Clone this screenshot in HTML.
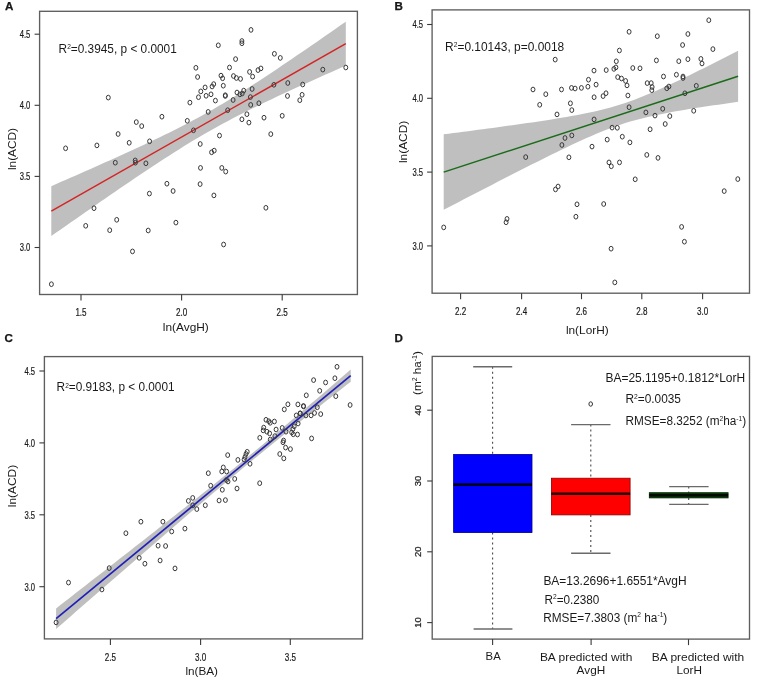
<!DOCTYPE html>
<html><head><meta charset="utf-8"><style>
html,body{margin:0;padding:0;background:#fff;}
svg{display:block;will-change:transform;}
text{font-family:"Liberation Sans", sans-serif;fill:#1a1a1a;}
</style></head><body>
<svg width="758" height="686" viewBox="0 0 758 686">
<rect x="0" y="0" width="758" height="686" fill="#fff"/>

<path d="M51.30,186.15 L56.21,184.01 L61.12,181.86 L66.02,179.72 L70.93,177.57 L75.84,175.41 L80.75,173.25 L85.66,171.08 L90.57,168.91 L95.47,166.74 L100.38,164.55 L105.29,162.36 L110.20,160.16 L115.11,157.95 L120.02,155.73 L124.92,153.50 L129.83,151.25 L134.74,149.00 L139.65,146.72 L144.56,144.43 L149.47,142.12 L154.38,139.79 L159.28,137.44 L164.19,135.05 L169.10,132.64 L174.01,130.20 L178.92,127.72 L183.82,125.20 L188.73,122.64 L193.64,120.04 L198.55,117.39 L203.46,114.69 L208.37,111.94 L213.27,109.14 L218.18,106.29 L223.09,103.39 L228.00,100.44 L232.91,97.44 L237.82,94.41 L242.73,91.33 L247.63,88.21 L252.54,85.06 L257.45,81.88 L262.36,78.67 L267.27,75.43 L272.18,72.18 L277.08,68.90 L281.99,65.60 L286.90,62.29 L291.81,58.96 L296.72,55.62 L301.62,52.27 L306.53,48.90 L311.44,45.53 L316.35,42.14 L321.26,38.75 L326.17,35.35 L331.07,31.95 L335.98,28.54 L340.89,25.12 L345.80,21.70 L345.80,65.70 L340.89,67.86 L335.98,70.02 L331.07,72.19 L326.17,74.37 L321.26,76.55 L316.35,78.74 L311.44,80.93 L306.53,83.14 L301.62,85.35 L296.72,87.58 L291.81,89.82 L286.90,92.07 L281.99,94.34 L277.08,96.62 L272.18,98.92 L267.27,101.25 L262.36,103.59 L257.45,105.96 L252.54,108.36 L247.63,110.79 L242.73,113.25 L237.82,115.75 L232.91,118.30 L228.00,120.88 L223.09,123.51 L218.18,126.19 L213.27,128.92 L208.37,131.70 L203.46,134.53 L198.55,137.41 L193.64,140.34 L188.73,143.32 L183.82,146.34 L178.92,149.40 L174.01,152.50 L169.10,155.64 L164.19,158.81 L159.28,162.00 L154.38,165.23 L149.47,168.48 L144.56,171.75 L139.65,175.04 L134.74,178.34 L129.83,181.67 L124.92,185.00 L120.02,188.35 L115.11,191.71 L110.20,195.08 L105.29,198.46 L100.38,201.85 L95.47,205.24 L90.57,208.65 L85.66,212.06 L80.75,215.47 L75.84,218.89 L70.93,222.31 L66.02,225.74 L61.12,229.18 L56.21,232.61 L51.30,236.05 Z" fill="#bfbfbf"/>
<line x1="51.3" y1="211.1" x2="345.8" y2="43.7" stroke="#d42424" stroke-width="1.5"/>
<path d="M443.70,134.37 L448.61,133.73 L453.51,133.09 L458.42,132.45 L463.33,131.81 L468.23,131.16 L473.14,130.51 L478.05,129.86 L482.95,129.21 L487.86,128.55 L492.77,127.89 L497.67,127.22 L502.58,126.55 L507.49,125.87 L512.39,125.19 L517.30,124.50 L522.21,123.80 L527.11,123.09 L532.02,122.38 L536.93,121.65 L541.83,120.91 L546.74,120.16 L551.65,119.39 L556.55,118.60 L561.46,117.79 L566.37,116.96 L571.27,116.09 L576.18,115.20 L581.09,114.26 L585.99,113.28 L590.90,112.25 L595.81,111.16 L600.71,110.01 L605.62,108.77 L610.53,107.46 L615.43,106.05 L620.34,104.55 L625.25,102.95 L630.15,101.25 L635.06,99.45 L639.97,97.57 L644.87,95.60 L649.78,93.56 L654.69,91.45 L659.59,89.28 L664.50,87.06 L669.41,84.80 L674.31,82.50 L679.22,80.17 L684.13,77.81 L689.03,75.42 L693.94,73.01 L698.85,70.59 L703.75,68.15 L708.66,65.69 L713.57,63.23 L718.47,60.75 L723.38,58.26 L728.29,55.76 L733.19,53.26 L738.10,50.75 L738.10,101.85 L733.19,102.53 L728.29,103.22 L723.38,103.92 L718.47,104.63 L713.57,105.34 L708.66,106.07 L703.75,106.81 L698.85,107.56 L693.94,108.33 L689.03,109.11 L684.13,109.92 L679.22,110.75 L674.31,111.61 L669.41,112.51 L664.50,113.44 L659.59,114.41 L654.69,115.44 L649.78,116.52 L644.87,117.67 L639.97,118.90 L635.06,120.21 L630.15,121.61 L625.25,123.10 L620.34,124.69 L615.43,126.38 L610.53,128.17 L605.62,130.05 L600.71,132.01 L595.81,134.04 L590.90,136.15 L585.99,138.31 L581.09,140.52 L576.18,142.78 L571.27,145.08 L566.37,147.41 L561.46,149.77 L556.55,152.15 L551.65,154.56 L546.74,156.98 L541.83,159.42 L536.93,161.88 L532.02,164.34 L527.11,166.82 L522.21,169.31 L517.30,171.80 L512.39,174.30 L507.49,176.81 L502.58,179.33 L497.67,181.85 L492.77,184.38 L487.86,186.91 L482.95,189.44 L478.05,191.98 L473.14,194.53 L468.23,197.07 L463.33,199.62 L458.42,202.17 L453.51,204.72 L448.61,207.28 L443.70,209.83 Z" fill="#bfbfbf"/>
<line x1="443.7" y1="172.1" x2="738.1" y2="76.3" stroke="#1a6b1a" stroke-width="1.5"/>
<path d="M56.10,608.42 L61.01,604.59 L65.92,600.77 L70.83,596.94 L75.74,593.11 L80.65,589.28 L85.56,585.46 L90.47,581.62 L95.38,577.79 L100.29,573.96 L105.20,570.13 L110.11,566.29 L115.02,562.45 L119.93,558.62 L124.84,554.78 L129.75,550.93 L134.66,547.09 L139.57,543.24 L144.48,539.39 L149.39,535.54 L154.30,531.68 L159.21,527.82 L164.12,523.96 L169.03,520.09 L173.94,516.22 L178.85,512.34 L183.76,508.46 L188.67,504.56 L193.58,500.67 L198.49,496.76 L203.40,492.85 L208.31,488.92 L213.22,484.99 L218.13,481.04 L223.04,477.09 L227.95,473.11 L232.86,469.13 L237.77,465.13 L242.68,461.11 L247.59,457.08 L252.50,453.03 L257.41,448.97 L262.32,444.89 L267.23,440.79 L272.14,436.68 L277.05,432.55 L281.96,428.41 L286.87,424.26 L291.78,420.09 L296.69,415.92 L301.60,411.73 L306.51,407.54 L311.42,403.34 L316.33,399.13 L321.24,394.91 L326.15,390.69 L331.06,386.46 L335.97,382.22 L340.88,377.99 L345.79,373.74 L350.70,369.50 L350.70,381.70 L345.79,385.56 L340.88,389.42 L335.97,393.29 L331.06,397.16 L326.15,401.03 L321.24,404.91 L316.33,408.80 L311.42,412.69 L306.51,416.59 L301.60,420.50 L296.69,424.42 L291.78,428.35 L286.87,432.29 L281.96,436.24 L277.05,440.20 L272.14,444.18 L267.23,448.17 L262.32,452.17 L257.41,456.20 L252.50,460.24 L247.59,464.29 L242.68,468.36 L237.77,472.45 L232.86,476.55 L227.95,480.67 L223.04,484.80 L218.13,488.95 L213.22,493.10 L208.31,497.27 L203.40,501.45 L198.49,505.64 L193.58,509.84 L188.67,514.05 L183.76,518.26 L178.85,522.48 L173.94,526.70 L169.03,530.93 L164.12,535.17 L159.21,539.41 L154.30,543.65 L149.39,547.90 L144.48,552.15 L139.57,556.40 L134.66,560.66 L129.75,564.92 L124.84,569.18 L119.93,573.44 L115.02,577.71 L110.11,581.97 L105.20,586.24 L100.29,590.51 L95.38,594.78 L90.47,599.05 L85.56,603.32 L80.65,607.60 L75.74,611.87 L70.83,616.15 L65.92,620.43 L61.01,624.71 L56.10,628.98 Z" fill="#bfbfbf"/>
<line x1="56.1" y1="618.7" x2="350.7" y2="375.6" stroke="#1f1fb8" stroke-width="1.7"/>
<g fill="none" stroke="#383838" stroke-width="1.0">
<ellipse cx="108.3" cy="97.6" rx="1.95" ry="2.35"/><ellipse cx="195.9" cy="67.8" rx="1.95" ry="2.35"/><ellipse cx="197.6" cy="77.0" rx="1.95" ry="2.35"/><ellipse cx="189.9" cy="102.6" rx="1.95" ry="2.35"/><ellipse cx="161.9" cy="116.7" rx="1.95" ry="2.35"/><ellipse cx="136.3" cy="122.1" rx="1.95" ry="2.35"/><ellipse cx="141.7" cy="126.1" rx="1.95" ry="2.35"/><ellipse cx="187.3" cy="120.8" rx="1.95" ry="2.35"/><ellipse cx="118.1" cy="134.0" rx="1.95" ry="2.35"/><ellipse cx="193.5" cy="130.3" rx="1.95" ry="2.35"/><ellipse cx="65.6" cy="148.3" rx="1.95" ry="2.35"/><ellipse cx="96.9" cy="145.4" rx="1.95" ry="2.35"/><ellipse cx="129.2" cy="142.8" rx="1.95" ry="2.35"/><ellipse cx="149.6" cy="141.3" rx="1.95" ry="2.35"/><ellipse cx="251.0" cy="29.9" rx="1.95" ry="2.35"/><ellipse cx="241.9" cy="41.0" rx="1.95" ry="2.35"/><ellipse cx="241.9" cy="43.3" rx="1.95" ry="2.35"/><ellipse cx="218.3" cy="45.3" rx="1.95" ry="2.35"/><ellipse cx="274.4" cy="53.8" rx="1.95" ry="2.35"/><ellipse cx="235.6" cy="59.1" rx="1.95" ry="2.35"/><ellipse cx="229.5" cy="67.5" rx="1.95" ry="2.35"/><ellipse cx="221.0" cy="75.6" rx="1.95" ry="2.35"/><ellipse cx="222.6" cy="78.3" rx="1.95" ry="2.35"/><ellipse cx="233.5" cy="76.0" rx="1.95" ry="2.35"/><ellipse cx="236.4" cy="78.0" rx="1.95" ry="2.35"/><ellipse cx="240.5" cy="78.9" rx="1.95" ry="2.35"/><ellipse cx="249.6" cy="71.9" rx="1.95" ry="2.35"/><ellipse cx="252.6" cy="76.6" rx="1.95" ry="2.35"/><ellipse cx="258.0" cy="70.1" rx="1.95" ry="2.35"/><ellipse cx="260.9" cy="68.4" rx="1.95" ry="2.35"/><ellipse cx="213.7" cy="84.1" rx="1.95" ry="2.35"/><ellipse cx="212.1" cy="86.5" rx="1.95" ry="2.35"/><ellipse cx="205.1" cy="87.4" rx="1.95" ry="2.35"/><ellipse cx="200.8" cy="91.4" rx="1.95" ry="2.35"/><ellipse cx="223.3" cy="85.7" rx="1.95" ry="2.35"/><ellipse cx="198.5" cy="97.2" rx="1.95" ry="2.35"/><ellipse cx="206.1" cy="95.8" rx="1.95" ry="2.35"/><ellipse cx="211.0" cy="94.3" rx="1.95" ry="2.35"/><ellipse cx="225.3" cy="95.2" rx="1.95" ry="2.35"/><ellipse cx="225.3" cy="96.0" rx="1.95" ry="2.35"/><ellipse cx="237.0" cy="92.5" rx="1.95" ry="2.35"/><ellipse cx="239.9" cy="94.4" rx="1.95" ry="2.35"/><ellipse cx="242.2" cy="93.5" rx="1.95" ry="2.35"/><ellipse cx="243.7" cy="90.6" rx="1.95" ry="2.35"/><ellipse cx="252.1" cy="89.0" rx="1.95" ry="2.35"/><ellipse cx="250.4" cy="97.1" rx="1.95" ry="2.35"/><ellipse cx="233.1" cy="100.0" rx="1.95" ry="2.35"/><ellipse cx="215.4" cy="100.6" rx="1.95" ry="2.35"/><ellipse cx="273.9" cy="84.8" rx="1.95" ry="2.35"/><ellipse cx="280.3" cy="57.9" rx="1.95" ry="2.35"/><ellipse cx="322.8" cy="69.6" rx="1.95" ry="2.35"/><ellipse cx="345.8" cy="67.5" rx="1.95" ry="2.35"/><ellipse cx="287.8" cy="83.0" rx="1.95" ry="2.35"/><ellipse cx="302.7" cy="84.5" rx="1.95" ry="2.35"/><ellipse cx="287.5" cy="96.0" rx="1.95" ry="2.35"/><ellipse cx="302.1" cy="94.8" rx="1.95" ry="2.35"/><ellipse cx="299.8" cy="100.2" rx="1.95" ry="2.35"/><ellipse cx="250.7" cy="104.9" rx="1.95" ry="2.35"/><ellipse cx="258.9" cy="103.2" rx="1.95" ry="2.35"/><ellipse cx="208.2" cy="111.9" rx="1.95" ry="2.35"/><ellipse cx="227.7" cy="110.2" rx="1.95" ry="2.35"/><ellipse cx="246.9" cy="114.2" rx="1.95" ry="2.35"/><ellipse cx="241.9" cy="119.3" rx="1.95" ry="2.35"/><ellipse cx="248.9" cy="122.6" rx="1.95" ry="2.35"/><ellipse cx="264.0" cy="117.7" rx="1.95" ry="2.35"/><ellipse cx="270.8" cy="134.1" rx="1.95" ry="2.35"/><ellipse cx="219.5" cy="135.6" rx="1.95" ry="2.35"/><ellipse cx="200.2" cy="144.0" rx="1.95" ry="2.35"/><ellipse cx="211.6" cy="152.3" rx="1.95" ry="2.35"/><ellipse cx="214.2" cy="150.6" rx="1.95" ry="2.35"/><ellipse cx="200.5" cy="167.9" rx="1.95" ry="2.35"/><ellipse cx="221.8" cy="167.9" rx="1.95" ry="2.35"/><ellipse cx="225.7" cy="171.6" rx="1.95" ry="2.35"/><ellipse cx="282.2" cy="115.8" rx="1.95" ry="2.35"/><ellipse cx="115.3" cy="162.7" rx="1.95" ry="2.35"/><ellipse cx="135.2" cy="160.4" rx="1.95" ry="2.35"/><ellipse cx="135.4" cy="162.7" rx="1.95" ry="2.35"/><ellipse cx="145.9" cy="163.3" rx="1.95" ry="2.35"/><ellipse cx="166.9" cy="183.7" rx="1.95" ry="2.35"/><ellipse cx="173.1" cy="191.0" rx="1.95" ry="2.35"/><ellipse cx="149.4" cy="193.6" rx="1.95" ry="2.35"/><ellipse cx="116.7" cy="219.8" rx="1.95" ry="2.35"/><ellipse cx="94.0" cy="208.2" rx="1.95" ry="2.35"/><ellipse cx="85.7" cy="225.8" rx="1.95" ry="2.35"/><ellipse cx="109.7" cy="230.2" rx="1.95" ry="2.35"/><ellipse cx="51.4" cy="284.2" rx="1.95" ry="2.35"/><ellipse cx="200.1" cy="184.1" rx="1.95" ry="2.35"/><ellipse cx="213.9" cy="195.4" rx="1.95" ry="2.35"/><ellipse cx="265.9" cy="207.8" rx="1.95" ry="2.35"/><ellipse cx="148.2" cy="230.5" rx="1.95" ry="2.35"/><ellipse cx="175.9" cy="222.6" rx="1.95" ry="2.35"/><ellipse cx="132.5" cy="251.4" rx="1.95" ry="2.35"/><ellipse cx="223.6" cy="244.5" rx="1.95" ry="2.35"/>
<ellipse cx="555.2" cy="59.6" rx="1.95" ry="2.35"/><ellipse cx="629.1" cy="31.8" rx="1.95" ry="2.35"/><ellipse cx="657.3" cy="36.2" rx="1.95" ry="2.35"/><ellipse cx="619.4" cy="50.5" rx="1.95" ry="2.35"/><ellipse cx="616.3" cy="61.3" rx="1.95" ry="2.35"/><ellipse cx="656.4" cy="60.4" rx="1.95" ry="2.35"/><ellipse cx="594.0" cy="70.6" rx="1.95" ry="2.35"/><ellipse cx="606.2" cy="70.1" rx="1.95" ry="2.35"/><ellipse cx="613.9" cy="68.9" rx="1.95" ry="2.35"/><ellipse cx="615.9" cy="67.4" rx="1.95" ry="2.35"/><ellipse cx="632.8" cy="68.0" rx="1.95" ry="2.35"/><ellipse cx="640.0" cy="68.3" rx="1.95" ry="2.35"/><ellipse cx="588.5" cy="79.7" rx="1.95" ry="2.35"/><ellipse cx="596.1" cy="84.6" rx="1.95" ry="2.35"/><ellipse cx="587.9" cy="86.7" rx="1.95" ry="2.35"/><ellipse cx="617.7" cy="77.1" rx="1.95" ry="2.35"/><ellipse cx="621.5" cy="78.5" rx="1.95" ry="2.35"/><ellipse cx="625.6" cy="80.9" rx="1.95" ry="2.35"/><ellipse cx="627.0" cy="85.4" rx="1.95" ry="2.35"/><ellipse cx="647.2" cy="83.1" rx="1.95" ry="2.35"/><ellipse cx="651.2" cy="83.1" rx="1.95" ry="2.35"/><ellipse cx="652.1" cy="87.0" rx="1.95" ry="2.35"/><ellipse cx="663.5" cy="76.5" rx="1.95" ry="2.35"/><ellipse cx="708.8" cy="20.2" rx="1.95" ry="2.35"/><ellipse cx="687.9" cy="34.0" rx="1.95" ry="2.35"/><ellipse cx="682.6" cy="45.0" rx="1.95" ry="2.35"/><ellipse cx="712.9" cy="49.1" rx="1.95" ry="2.35"/><ellipse cx="678.8" cy="61.2" rx="1.95" ry="2.35"/><ellipse cx="687.9" cy="59.2" rx="1.95" ry="2.35"/><ellipse cx="700.9" cy="58.9" rx="1.95" ry="2.35"/><ellipse cx="702.0" cy="63.5" rx="1.95" ry="2.35"/><ellipse cx="676.4" cy="74.7" rx="1.95" ry="2.35"/><ellipse cx="683.0" cy="76.5" rx="1.95" ry="2.35"/><ellipse cx="683.0" cy="78.0" rx="1.95" ry="2.35"/><ellipse cx="666.8" cy="88.3" rx="1.95" ry="2.35"/><ellipse cx="668.9" cy="86.5" rx="1.95" ry="2.35"/><ellipse cx="696.3" cy="85.8" rx="1.95" ry="2.35"/><ellipse cx="684.9" cy="93.3" rx="1.95" ry="2.35"/><ellipse cx="533.0" cy="89.5" rx="1.95" ry="2.35"/><ellipse cx="545.8" cy="94.2" rx="1.95" ry="2.35"/><ellipse cx="561.5" cy="89.5" rx="1.95" ry="2.35"/><ellipse cx="571.5" cy="87.9" rx="1.95" ry="2.35"/><ellipse cx="575.1" cy="88.5" rx="1.95" ry="2.35"/><ellipse cx="581.4" cy="87.9" rx="1.95" ry="2.35"/><ellipse cx="539.7" cy="104.8" rx="1.95" ry="2.35"/><ellipse cx="570.4" cy="103.3" rx="1.95" ry="2.35"/><ellipse cx="571.8" cy="110.1" rx="1.95" ry="2.35"/><ellipse cx="557.0" cy="114.4" rx="1.95" ry="2.35"/><ellipse cx="571.8" cy="135.4" rx="1.95" ry="2.35"/><ellipse cx="565.0" cy="138.0" rx="1.95" ry="2.35"/><ellipse cx="561.9" cy="145.0" rx="1.95" ry="2.35"/><ellipse cx="525.7" cy="157.1" rx="1.95" ry="2.35"/><ellipse cx="568.9" cy="157.3" rx="1.95" ry="2.35"/><ellipse cx="651.8" cy="90.2" rx="1.95" ry="2.35"/><ellipse cx="594.1" cy="97.2" rx="1.95" ry="2.35"/><ellipse cx="603.1" cy="96.1" rx="1.95" ry="2.35"/><ellipse cx="606.0" cy="93.2" rx="1.95" ry="2.35"/><ellipse cx="627.9" cy="95.5" rx="1.95" ry="2.35"/><ellipse cx="629.1" cy="107.2" rx="1.95" ry="2.35"/><ellipse cx="645.9" cy="112.4" rx="1.95" ry="2.35"/><ellipse cx="655.0" cy="115.6" rx="1.95" ry="2.35"/><ellipse cx="662.7" cy="108.8" rx="1.95" ry="2.35"/><ellipse cx="665.2" cy="124.0" rx="1.95" ry="2.35"/><ellipse cx="594.1" cy="119.4" rx="1.95" ry="2.35"/><ellipse cx="612.1" cy="127.6" rx="1.95" ry="2.35"/><ellipse cx="617.3" cy="127.8" rx="1.95" ry="2.35"/><ellipse cx="650.1" cy="129.3" rx="1.95" ry="2.35"/><ellipse cx="622.3" cy="136.7" rx="1.95" ry="2.35"/><ellipse cx="607.2" cy="139.6" rx="1.95" ry="2.35"/><ellipse cx="629.9" cy="142.4" rx="1.95" ry="2.35"/><ellipse cx="592.0" cy="146.6" rx="1.95" ry="2.35"/><ellipse cx="646.8" cy="154.9" rx="1.95" ry="2.35"/><ellipse cx="658.0" cy="157.9" rx="1.95" ry="2.35"/><ellipse cx="609.0" cy="162.4" rx="1.95" ry="2.35"/><ellipse cx="619.5" cy="162.4" rx="1.95" ry="2.35"/><ellipse cx="669.8" cy="116.1" rx="1.95" ry="2.35"/><ellipse cx="693.7" cy="110.8" rx="1.95" ry="2.35"/><ellipse cx="555.5" cy="189.4" rx="1.95" ry="2.35"/><ellipse cx="558.1" cy="186.5" rx="1.95" ry="2.35"/><ellipse cx="577.0" cy="204.3" rx="1.95" ry="2.35"/><ellipse cx="575.9" cy="216.7" rx="1.95" ry="2.35"/><ellipse cx="507.0" cy="218.9" rx="1.95" ry="2.35"/><ellipse cx="506.1" cy="222.3" rx="1.95" ry="2.35"/><ellipse cx="443.7" cy="227.4" rx="1.95" ry="2.35"/><ellipse cx="611.3" cy="166.3" rx="1.95" ry="2.35"/><ellipse cx="635.2" cy="179.3" rx="1.95" ry="2.35"/><ellipse cx="603.7" cy="204.0" rx="1.95" ry="2.35"/><ellipse cx="737.8" cy="179.1" rx="1.95" ry="2.35"/><ellipse cx="724.2" cy="191.1" rx="1.95" ry="2.35"/><ellipse cx="681.6" cy="226.9" rx="1.95" ry="2.35"/><ellipse cx="684.4" cy="241.7" rx="1.95" ry="2.35"/><ellipse cx="611.1" cy="248.7" rx="1.95" ry="2.35"/><ellipse cx="614.8" cy="282.4" rx="1.95" ry="2.35"/>
<ellipse cx="56.1" cy="622.4" rx="1.95" ry="2.35"/><ellipse cx="68.5" cy="582.6" rx="1.95" ry="2.35"/><ellipse cx="101.9" cy="589.5" rx="1.95" ry="2.35"/><ellipse cx="109.2" cy="568.1" rx="1.95" ry="2.35"/><ellipse cx="125.9" cy="533.2" rx="1.95" ry="2.35"/><ellipse cx="140.9" cy="521.7" rx="1.95" ry="2.35"/><ellipse cx="162.9" cy="521.7" rx="1.95" ry="2.35"/><ellipse cx="171.7" cy="531.5" rx="1.95" ry="2.35"/><ellipse cx="184.9" cy="528.6" rx="1.95" ry="2.35"/><ellipse cx="158.1" cy="545.7" rx="1.95" ry="2.35"/><ellipse cx="165.6" cy="546.0" rx="1.95" ry="2.35"/><ellipse cx="139.2" cy="557.8" rx="1.95" ry="2.35"/><ellipse cx="144.9" cy="563.7" rx="1.95" ry="2.35"/><ellipse cx="160.1" cy="560.5" rx="1.95" ry="2.35"/><ellipse cx="175.0" cy="568.4" rx="1.95" ry="2.35"/><ellipse cx="188.4" cy="500.9" rx="1.95" ry="2.35"/><ellipse cx="192.7" cy="497.9" rx="1.95" ry="2.35"/><ellipse cx="192.8" cy="505.3" rx="1.95" ry="2.35"/><ellipse cx="196.8" cy="509.1" rx="1.95" ry="2.35"/><ellipse cx="205.3" cy="505.3" rx="1.95" ry="2.35"/><ellipse cx="210.7" cy="485.7" rx="1.95" ry="2.35"/><ellipse cx="208.3" cy="473.2" rx="1.95" ry="2.35"/><ellipse cx="219.1" cy="500.5" rx="1.95" ry="2.35"/><ellipse cx="225.4" cy="500.1" rx="1.95" ry="2.35"/><ellipse cx="222.3" cy="489.8" rx="1.95" ry="2.35"/><ellipse cx="226.5" cy="480.0" rx="1.95" ry="2.35"/><ellipse cx="228.0" cy="481.5" rx="1.95" ry="2.35"/><ellipse cx="234.7" cy="478.9" rx="1.95" ry="2.35"/><ellipse cx="237.0" cy="488.5" rx="1.95" ry="2.35"/><ellipse cx="259.7" cy="483.2" rx="1.95" ry="2.35"/><ellipse cx="223.3" cy="467.4" rx="1.95" ry="2.35"/><ellipse cx="221.8" cy="471.5" rx="1.95" ry="2.35"/><ellipse cx="226.6" cy="471.5" rx="1.95" ry="2.35"/><ellipse cx="227.7" cy="455.1" rx="1.95" ry="2.35"/><ellipse cx="237.9" cy="459.9" rx="1.95" ry="2.35"/><ellipse cx="247.2" cy="451.8" rx="1.95" ry="2.35"/><ellipse cx="246.0" cy="454.0" rx="1.95" ry="2.35"/><ellipse cx="245.0" cy="457.0" rx="1.95" ry="2.35"/><ellipse cx="244.1" cy="459.5" rx="1.95" ry="2.35"/><ellipse cx="250.0" cy="463.8" rx="1.95" ry="2.35"/><ellipse cx="259.8" cy="437.8" rx="1.95" ry="2.35"/><ellipse cx="263.7" cy="427.6" rx="1.95" ry="2.35"/><ellipse cx="263.2" cy="430.4" rx="1.95" ry="2.35"/><ellipse cx="266.9" cy="431.7" rx="1.95" ry="2.35"/><ellipse cx="269.6" cy="433.4" rx="1.95" ry="2.35"/><ellipse cx="266.0" cy="419.8" rx="1.95" ry="2.35"/><ellipse cx="268.8" cy="421.2" rx="1.95" ry="2.35"/><ellipse cx="270.2" cy="422.8" rx="1.95" ry="2.35"/><ellipse cx="274.4" cy="421.5" rx="1.95" ry="2.35"/><ellipse cx="270.3" cy="439.5" rx="1.95" ry="2.35"/><ellipse cx="274.9" cy="436.1" rx="1.95" ry="2.35"/><ellipse cx="276.1" cy="429.5" rx="1.95" ry="2.35"/><ellipse cx="282.2" cy="427.9" rx="1.95" ry="2.35"/><ellipse cx="286.0" cy="431.7" rx="1.95" ry="2.35"/><ellipse cx="291.7" cy="432.4" rx="1.95" ry="2.35"/><ellipse cx="293.3" cy="434.3" rx="1.95" ry="2.35"/><ellipse cx="297.5" cy="434.5" rx="1.95" ry="2.35"/><ellipse cx="294.2" cy="426.3" rx="1.95" ry="2.35"/><ellipse cx="292.9" cy="429.1" rx="1.95" ry="2.35"/><ellipse cx="298.1" cy="423.5" rx="1.95" ry="2.35"/><ellipse cx="283.6" cy="440.5" rx="1.95" ry="2.35"/><ellipse cx="283.0" cy="442.3" rx="1.95" ry="2.35"/><ellipse cx="285.6" cy="447.6" rx="1.95" ry="2.35"/><ellipse cx="290.4" cy="449.1" rx="1.95" ry="2.35"/><ellipse cx="279.8" cy="454.0" rx="1.95" ry="2.35"/><ellipse cx="283.8" cy="458.4" rx="1.95" ry="2.35"/><ellipse cx="311.6" cy="438.4" rx="1.95" ry="2.35"/><ellipse cx="284.3" cy="409.4" rx="1.95" ry="2.35"/><ellipse cx="287.9" cy="404.3" rx="1.95" ry="2.35"/><ellipse cx="297.9" cy="404.4" rx="1.95" ry="2.35"/><ellipse cx="303.4" cy="406.0" rx="1.95" ry="2.35"/><ellipse cx="303.6" cy="406.4" rx="1.95" ry="2.35"/><ellipse cx="300.1" cy="413.3" rx="1.95" ry="2.35"/><ellipse cx="300.3" cy="413.5" rx="1.95" ry="2.35"/><ellipse cx="296.3" cy="415.4" rx="1.95" ry="2.35"/><ellipse cx="305.9" cy="415.5" rx="1.95" ry="2.35"/><ellipse cx="311.1" cy="415.4" rx="1.95" ry="2.35"/><ellipse cx="314.5" cy="413.0" rx="1.95" ry="2.35"/><ellipse cx="320.7" cy="414.1" rx="1.95" ry="2.35"/><ellipse cx="317.3" cy="407.3" rx="1.95" ry="2.35"/><ellipse cx="306.3" cy="395.3" rx="1.95" ry="2.35"/><ellipse cx="319.7" cy="390.8" rx="1.95" ry="2.35"/><ellipse cx="313.6" cy="380.1" rx="1.95" ry="2.35"/><ellipse cx="325.6" cy="382.5" rx="1.95" ry="2.35"/><ellipse cx="334.9" cy="378.2" rx="1.95" ry="2.35"/><ellipse cx="337.0" cy="366.8" rx="1.95" ry="2.35"/><ellipse cx="335.8" cy="396.2" rx="1.95" ry="2.35"/><ellipse cx="350.1" cy="405.0" rx="1.95" ry="2.35"/>
</g>
<g fill="none" stroke="#5e5e5e" stroke-width="1.35">
<rect x="39.6" y="11.3" width="317.8" height="283.2"/>
<rect x="432.1" y="9.9" width="317.4" height="283.3"/>
<rect x="44.4" y="356.6" width="318.1" height="282.3"/>
<rect x="432.2" y="356.4" width="317.3" height="282.7"/>
</g>
<g stroke="#3a3a3a" stroke-width="1.1"><line x1="34.6" y1="34.2" x2="39.6" y2="34.2"/><line x1="34.6" y1="105.3" x2="39.6" y2="105.3"/><line x1="34.6" y1="176.4" x2="39.6" y2="176.4"/><line x1="34.6" y1="247.5" x2="39.6" y2="247.5"/><line x1="81.0" y1="294.5" x2="81.0" y2="300.5"/><line x1="181.6" y1="294.5" x2="181.6" y2="300.5"/><line x1="282.2" y1="294.5" x2="282.2" y2="300.5"/><line x1="427.1" y1="24.5" x2="432.1" y2="24.5"/><line x1="427.1" y1="98.3" x2="432.1" y2="98.3"/><line x1="427.1" y1="172.1" x2="432.1" y2="172.1"/><line x1="427.1" y1="245.9" x2="432.1" y2="245.9"/><line x1="460.6" y1="293.2" x2="460.6" y2="299.2"/><line x1="521.6" y1="293.2" x2="521.6" y2="299.2"/><line x1="581.5" y1="293.2" x2="581.5" y2="299.2"/><line x1="641.8" y1="293.2" x2="641.8" y2="299.2"/><line x1="702.6" y1="293.2" x2="702.6" y2="299.2"/><line x1="39.4" y1="371.0" x2="44.4" y2="371.0"/><line x1="39.4" y1="442.9" x2="44.4" y2="442.9"/><line x1="39.4" y1="514.8" x2="44.4" y2="514.8"/><line x1="39.4" y1="586.7" x2="44.4" y2="586.7"/><line x1="110.4" y1="638.9" x2="110.4" y2="644.9"/><line x1="200.6" y1="638.9" x2="200.6" y2="644.9"/><line x1="290.3" y1="638.9" x2="290.3" y2="644.9"/><line x1="427.2" y1="410.2" x2="432.2" y2="410.2"/><line x1="427.2" y1="481.0" x2="432.2" y2="481.0"/><line x1="427.2" y1="551.8" x2="432.2" y2="551.8"/><line x1="427.2" y1="622.6" x2="432.2" y2="622.6"/><line x1="492.6" y1="639.1" x2="492.6" y2="645.1"/><line x1="591.1" y1="639.1" x2="591.1" y2="645.1"/><line x1="688.5" y1="639.1" x2="688.5" y2="645.1"/></g>
<text x="30.3" y="38.1" font-size="10.9" stroke="#1a1a1a" stroke-width="0.22" text-anchor="end" textLength="10.6" lengthAdjust="spacingAndGlyphs">4.5</text><text x="30.3" y="109.2" font-size="10.9" stroke="#1a1a1a" stroke-width="0.22" text-anchor="end" textLength="10.6" lengthAdjust="spacingAndGlyphs">4.0</text><text x="30.3" y="180.3" font-size="10.9" stroke="#1a1a1a" stroke-width="0.22" text-anchor="end" textLength="10.6" lengthAdjust="spacingAndGlyphs">3.5</text><text x="30.3" y="251.4" font-size="10.9" stroke="#1a1a1a" stroke-width="0.22" text-anchor="end" textLength="10.6" lengthAdjust="spacingAndGlyphs">3.0</text><text x="81.0" y="316.2" font-size="10.9" stroke="#1a1a1a" stroke-width="0.22" text-anchor="middle" textLength="11.2" lengthAdjust="spacingAndGlyphs">1.5</text><text x="181.6" y="316.2" font-size="10.9" stroke="#1a1a1a" stroke-width="0.22" text-anchor="middle" textLength="11.2" lengthAdjust="spacingAndGlyphs">2.0</text><text x="282.2" y="316.2" font-size="10.9" stroke="#1a1a1a" stroke-width="0.22" text-anchor="middle" textLength="11.2" lengthAdjust="spacingAndGlyphs">2.5</text><text x="423.1" y="28.4" font-size="10.9" stroke="#1a1a1a" stroke-width="0.22" text-anchor="end" textLength="10.6" lengthAdjust="spacingAndGlyphs">4.5</text><text x="423.1" y="102.2" font-size="10.9" stroke="#1a1a1a" stroke-width="0.22" text-anchor="end" textLength="10.6" lengthAdjust="spacingAndGlyphs">4.0</text><text x="423.1" y="176.0" font-size="10.9" stroke="#1a1a1a" stroke-width="0.22" text-anchor="end" textLength="10.6" lengthAdjust="spacingAndGlyphs">3.5</text><text x="423.1" y="249.8" font-size="10.9" stroke="#1a1a1a" stroke-width="0.22" text-anchor="end" textLength="10.6" lengthAdjust="spacingAndGlyphs">3.0</text><text x="460.6" y="315.2" font-size="10.9" stroke="#1a1a1a" stroke-width="0.22" text-anchor="middle" textLength="11.2" lengthAdjust="spacingAndGlyphs">2.2</text><text x="521.6" y="315.2" font-size="10.9" stroke="#1a1a1a" stroke-width="0.22" text-anchor="middle" textLength="11.2" lengthAdjust="spacingAndGlyphs">2.4</text><text x="581.5" y="315.2" font-size="10.9" stroke="#1a1a1a" stroke-width="0.22" text-anchor="middle" textLength="11.2" lengthAdjust="spacingAndGlyphs">2.6</text><text x="641.8" y="315.2" font-size="10.9" stroke="#1a1a1a" stroke-width="0.22" text-anchor="middle" textLength="11.2" lengthAdjust="spacingAndGlyphs">2.8</text><text x="702.6" y="315.2" font-size="10.9" stroke="#1a1a1a" stroke-width="0.22" text-anchor="middle" textLength="11.2" lengthAdjust="spacingAndGlyphs">3.0</text><text x="35.0" y="374.9" font-size="10.9" stroke="#1a1a1a" stroke-width="0.22" text-anchor="end" textLength="10.6" lengthAdjust="spacingAndGlyphs">4.5</text><text x="35.0" y="446.79999999999995" font-size="10.9" stroke="#1a1a1a" stroke-width="0.22" text-anchor="end" textLength="10.6" lengthAdjust="spacingAndGlyphs">4.0</text><text x="35.0" y="518.6999999999999" font-size="10.9" stroke="#1a1a1a" stroke-width="0.22" text-anchor="end" textLength="10.6" lengthAdjust="spacingAndGlyphs">3.5</text><text x="35.0" y="590.6" font-size="10.9" stroke="#1a1a1a" stroke-width="0.22" text-anchor="end" textLength="10.6" lengthAdjust="spacingAndGlyphs">3.0</text><text x="110.4" y="661.2" font-size="10.9" stroke="#1a1a1a" stroke-width="0.22" text-anchor="middle" textLength="11.2" lengthAdjust="spacingAndGlyphs">2.5</text><text x="200.6" y="661.2" font-size="10.9" stroke="#1a1a1a" stroke-width="0.22" text-anchor="middle" textLength="11.2" lengthAdjust="spacingAndGlyphs">3.0</text><text x="290.3" y="661.2" font-size="10.9" stroke="#1a1a1a" stroke-width="0.22" text-anchor="middle" textLength="11.2" lengthAdjust="spacingAndGlyphs">3.5</text><text transform="translate(421.2,410.2) rotate(-90)" x="0" y="0" font-size="9.4" stroke="#1a1a1a" stroke-width="0.22" text-anchor="middle" textLength="10.5" lengthAdjust="spacingAndGlyphs">40</text><text transform="translate(421.2,481.0) rotate(-90)" x="0" y="0" font-size="9.4" stroke="#1a1a1a" stroke-width="0.22" text-anchor="middle" textLength="10.5" lengthAdjust="spacingAndGlyphs">30</text><text transform="translate(421.2,551.8) rotate(-90)" x="0" y="0" font-size="9.4" stroke="#1a1a1a" stroke-width="0.22" text-anchor="middle" textLength="10.5" lengthAdjust="spacingAndGlyphs">20</text><text transform="translate(421.2,622.6) rotate(-90)" x="0" y="0" font-size="9.4" stroke="#1a1a1a" stroke-width="0.22" text-anchor="middle" textLength="10.5" lengthAdjust="spacingAndGlyphs">10</text>
<text x="162.8" y="330.8" font-size="10.9" textLength="46" lengthAdjust="spacingAndGlyphs">ln(AvgH)</text><text x="565.9" y="333.5" font-size="10.9" textLength="42.8" lengthAdjust="spacingAndGlyphs">ln(LorH)</text><text x="185.4" y="674.8" font-size="10.9" textLength="32.6" lengthAdjust="spacingAndGlyphs">ln(BA)</text><text transform="translate(16.2,149.0) rotate(-90)" font-size="10.9" text-anchor="middle" textLength="42.1" lengthAdjust="spacingAndGlyphs">ln(ACD)</text><text transform="translate(407.0,141.9) rotate(-90)" font-size="10.9" text-anchor="middle" textLength="42.4" lengthAdjust="spacingAndGlyphs">ln(ACD)</text><text transform="translate(16.4,486.0) rotate(-90)" font-size="10.9" text-anchor="middle" textLength="42.3" lengthAdjust="spacingAndGlyphs">ln(ACD)</text><text transform="translate(420.8,373.0) rotate(-90)" font-size="10.7" text-anchor="middle" textLength="43.8" lengthAdjust="spacingAndGlyphs">(m<tspan font-size="6.5" dy="-4">2</tspan><tspan dy="4"> ha</tspan><tspan font-size="6.5" dy="-4">-1</tspan><tspan dy="4">)</tspan></text>
<text x="5.0" y="10.2" font-size="11.6" font-weight="bold" fill="#000" stroke="#000" stroke-width="0.25">A</text><text x="394.6" y="10.3" font-size="11.6" font-weight="bold" fill="#000" stroke="#000" stroke-width="0.25">B</text><text x="4.5" y="342.1" font-size="11.6" font-weight="bold" fill="#000" stroke="#000" stroke-width="0.25">C</text><text x="394.6" y="342.3" font-size="11.6" font-weight="bold" fill="#000" stroke="#000" stroke-width="0.25">D</text>
<text x="58.6" y="52.8" font-size="12.2" textLength="118.2" lengthAdjust="spacingAndGlyphs">R<tspan font-size="6.8" dy="-3.4">2</tspan><tspan dy="3.4">=0.3945, p &lt; 0.0001</tspan></text>
<text x="445.1" y="50.8" font-size="12.2" textLength="119.1" lengthAdjust="spacingAndGlyphs">R<tspan font-size="6.8" dy="-3.4">2</tspan><tspan dy="3.4">=0.10143, p=0.0018</tspan></text>
<text x="56.6" y="391.0" font-size="12.2" textLength="118.0" lengthAdjust="spacingAndGlyphs">R<tspan font-size="6.8" dy="-3.4">2</tspan><tspan dy="3.4">=0.9183, p &lt; 0.0001</tspan></text>
<line x1="492.6" y1="366.8" x2="492.6" y2="454.6" stroke="#4a4a4a" stroke-width="1.1" stroke-dasharray="2,3"/><line x1="492.6" y1="532.6" x2="492.6" y2="629.0" stroke="#4a4a4a" stroke-width="1.1" stroke-dasharray="2,3"/><line x1="590.8" y1="424.6" x2="590.8" y2="478.3" stroke="#4a4a4a" stroke-width="1.1" stroke-dasharray="2,3"/><line x1="590.8" y1="514.9" x2="590.8" y2="553.3" stroke="#4a4a4a" stroke-width="1.1" stroke-dasharray="2,3"/><line x1="688.7" y1="486.6" x2="688.7" y2="492.7" stroke="#4a4a4a" stroke-width="1.1" stroke-dasharray="2,3"/><line x1="688.7" y1="497.9" x2="688.7" y2="504.4" stroke="#4a4a4a" stroke-width="1.1" stroke-dasharray="2,3"/><line x1="473.2" y1="366.8" x2="512.2" y2="366.8" stroke="#6a6a6a" stroke-width="1.4"/><line x1="473.6" y1="629.0" x2="512.4" y2="629.0" stroke="#6a6a6a" stroke-width="1.4"/><line x1="571.1" y1="424.6" x2="610.5" y2="424.6" stroke="#6a6a6a" stroke-width="1.4"/><line x1="571.1" y1="553.3" x2="610.5" y2="553.3" stroke="#6a6a6a" stroke-width="1.4"/><line x1="669.2" y1="486.6" x2="708.6" y2="486.6" stroke="#6a6a6a" stroke-width="1.4"/><line x1="669.2" y1="504.4" x2="708.6" y2="504.4" stroke="#6a6a6a" stroke-width="1.4"/><rect x="453.6" y="454.4" width="78.4" height="78.2" fill="#0000ff" stroke="#00008a" stroke-width="0.8"/><line x1="453.6" y1="484.6" x2="532.0" y2="484.6" stroke="#000022" stroke-width="2.8"/><rect x="551.4" y="478.2" width="78.7" height="36.7" fill="#ff0000" stroke="#8a0000" stroke-width="0.8"/><line x1="551.4" y1="493.8" x2="630.1" y2="493.8" stroke="#200000" stroke-width="2.6"/><rect x="649.3" y="492.7" width="78.8" height="5.2" fill="#0b3d0b" stroke="#002200" stroke-width="0.8"/><line x1="649.3" y1="495.3" x2="728.1" y2="495.3" stroke="#000a00" stroke-width="2.4"/><ellipse cx="590.7" cy="404.0" rx="1.8" ry="2.2" fill="none" stroke="#333" stroke-width="1"/>
<text x="605.5" y="382.3" font-size="12" textLength="139.6" lengthAdjust="spacingAndGlyphs">BA=25.1195+0.1812*LorH</text><text x="625.5" y="403.1" font-size="12" textLength="55.4" lengthAdjust="spacingAndGlyphs">R<tspan font-size="6.8" dy="-4.3">2</tspan><tspan dy="4.3">=0.0035</tspan></text><text x="625.5" y="424.8" font-size="12" textLength="120.7" lengthAdjust="spacingAndGlyphs">RMSE=8.3252 (m<tspan font-size="6.8" dy="-4.3">2</tspan><tspan dy="4.3">ha</tspan><tspan font-size="6.8" dy="-4.3">-1</tspan><tspan dy="4.3">)</tspan></text><text x="543.4" y="585.1" font-size="12" textLength="143.2" lengthAdjust="spacingAndGlyphs">BA=13.2696+1.6551*AvgH</text><text x="544.5" y="603.5" font-size="12" textLength="54.9" lengthAdjust="spacingAndGlyphs">R<tspan font-size="6.8" dy="-4.3">2</tspan><tspan dy="4.3">=0.2380</tspan></text><text x="543.2" y="621.5" font-size="12" textLength="124.1" lengthAdjust="spacingAndGlyphs">RMSE=7.3803 (m<tspan font-size="6.8" dy="-4.3">2</tspan><tspan dy="4.3"> ha</tspan><tspan font-size="6.8" dy="-4.3">-1</tspan><tspan dy="4.3">)</tspan></text><text x="485.6" y="659.7" font-size="11.5" textLength="15.1" lengthAdjust="spacingAndGlyphs">BA</text><text x="539.9" y="661.0" font-size="11.8" textLength="92.4" lengthAdjust="spacingAndGlyphs">BA predicted with</text><text x="576.6" y="673.6" font-size="11.8" textLength="28.6" lengthAdjust="spacingAndGlyphs">AvgH</text><text x="651.8" y="661.0" font-size="11.8" textLength="92.4" lengthAdjust="spacingAndGlyphs">BA predicted with</text><text x="676.5" y="673.6" font-size="11.8" textLength="25.5" lengthAdjust="spacingAndGlyphs">LorH</text>
</svg></body></html>
